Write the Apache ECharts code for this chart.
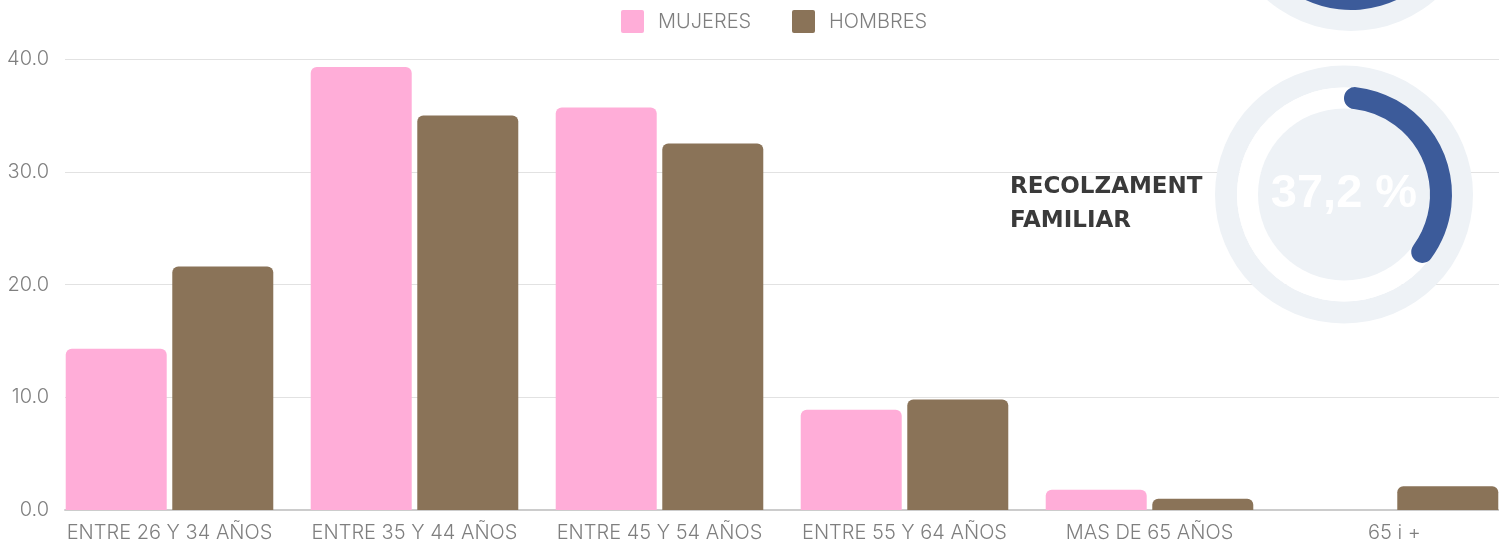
<!DOCTYPE html>
<html><head><meta charset="utf-8">
<script src="https://cdn.jsdelivr.net/npm/echarts@6/dist/echarts.min.js"></script>
<style>html,body{margin:0;padding:0;background:#fff;overflow:hidden;width:1499px;height:540px}#c{width:1517px;height:540px}</style>
</head><body><div id="c"></div>
<script>
// ---- data ----
const categories = ['ENTRE 26 Y 34 AÑOS', 'ENTRE 35 Y 44 AÑOS', 'ENTRE 45 Y 54 AÑOS', 'ENTRE 55 Y 64 AÑOS', 'MAS DE 65 AÑOS', '65 i +'];
const seriesNames = ['MUJERES', 'HOMBRES'];
const mujeres = [14.3, 39.3, 35.7, 8.9, 1.8, 0];
const hombres = [21.6, 35.0, 32.5, 9.8, 1.0, 2.1];
const yTicks = [0, 10, 20, 30, 40];
const ringLabel = ['RECOLZAMENT', 'FAMILIAR'];
const ringValues = [62.8, 37.2]; // top (cropped) ring, main ring

// ---- style ----
const FONT = 'Inter';
const GRAY = '#7f7f7f';
const PINK = '#FFADD8';
const BROWN = '#8A7358';
const RING_GRAY = '#EEF2F6';
const BLUE = '#3C5B9A';
const ICON = 'path://M2,0H21A2,2,0,0,1,23,2V21A2,2,0,0,1,21,23H2A2,2,0,0,1,0,21V2A2,2,0,0,1,2,0Z';

function disk(center, radius, color) {
  return {
    type: 'pie', silent: true, center: center, radius: radius, z: 1,
    label: { show: false }, labelLine: { show: false }, emphasis: { disabled: true },
    itemStyle: { borderWidth: 0 },
    data: [{ value: 1, itemStyle: { color: color, borderWidth: 0 } }]
  };
}
function ring(center, value, showDetail) {
  return [
    disk(center, [107, 129], RING_GRAY),
    disk(center, [86, 107], '#ffffff'),
    disk(center, [0, 86], RING_GRAY),
    {
      type: 'gauge', center: center, radius: 108, z: 3,
      startAngle: 83.5, endAngle: -238.5, min: 0, max: 100,
      axisLine: { show: false },
      progress: { show: true, width: 22, roundCap: true, itemStyle: { color: BLUE } },
      pointer: { show: false }, anchor: { show: false }, axisTick: { show: false },
      splitLine: { show: false }, axisLabel: { show: false }, title: { show: false },
      detail: {
        show: showDetail, offsetCenter: [0, 0],
        formatter: function (v) { return v.toFixed(1).replace('.', ',') + ' %'; },
        color: '#ffffff', fontSize: 47, fontWeight: 'bold', fontFamily: 'Liberation Sans'
      },
      data: [{ value: value }]
    }
  ];
}

const legendCommon = {
  padding: 0, itemWidth: 23, itemHeight: 23, icon: ICON, selectedMode: false,
  textStyle: { color: GRAY, fontSize: 20, fontFamily: FONT, fontWeight: 300, padding: [2, 0, 0, 9] }
};

const option = {
  animation: false,
  backgroundColor: '#ffffff',
  legend: [
    Object.assign({ data: [seriesNames[0]], left: 621, top: 10 }, legendCommon),
    Object.assign({ data: [seriesNames[1]], left: 792, top: 10 }, legendCommon)
  ],
  grid: [
    { left: 65, right: 0, top: 59, bottom: 30, outerBoundsMode: 'none', containLabel: false },
    { left: 47, right: 0, top: 59, bottom: 30, outerBoundsMode: 'none', containLabel: false }
  ],
  xAxis: [
    { gridIndex: 0, type: 'category', data: categories,
      axisLine: { lineStyle: { color: '#cccccc', width: 2 } }, axisTick: { show: false },
      axisLabel: { show: false }, splitLine: { show: false } },
    { gridIndex: 1, type: 'category', data: categories,
      axisLine: { show: false }, axisTick: { show: false },
      axisLabel: { color: GRAY, fontSize: 20, fontFamily: FONT, fontWeight: 300, margin: 13, interval: 0 } }
  ],
  yAxis: [
    { gridIndex: 0, type: 'value', min: yTicks[0], max: yTicks[yTicks.length - 1], interval: yTicks[1] - yTicks[0],
      axisLine: { show: false }, axisTick: { show: false },
      axisLabel: { formatter: function (v) { return v.toFixed(1); }, color: GRAY, fontSize: 20, fontFamily: FONT, fontWeight: 300, margin: 16 },
      splitLine: { lineStyle: { color: '#e2e2e2', width: 1 } } },
    { gridIndex: 1, type: 'value', min: yTicks[0], max: yTicks[yTicks.length - 1], interval: yTicks[1] - yTicks[0], show: false }
  ],
  graphic: [{
    type: 'text', left: 1010, top: 170, z: 10,
    style: { text: ringLabel.join('\n'), font: 'bold 23px "DejaVu Sans"', fill: '#3a3a3a', lineHeight: 34 }
  }],
  series: [
    { type: 'bar', name: seriesNames[0], xAxisIndex: 1, yAxisIndex: 1, data: mujeres,
      barWidth: 101, barGap: '5.5%', itemStyle: { color: PINK, borderRadius: [6, 6, 0, 0] } },
    { type: 'bar', name: seriesNames[1], xAxisIndex: 1, yAxisIndex: 1, data: hombres,
      barWidth: 101, barGap: '5.5%', itemStyle: { color: BROWN, borderRadius: [6, 6, 0, 0] } }
  ].concat(ring([1351, -98], ringValues[0], false), ring([1344, 194.5], ringValues[1], true))
};

const chart = echarts.init(document.getElementById('c'));
chart.setOption(option);
</script>
</body></html>
